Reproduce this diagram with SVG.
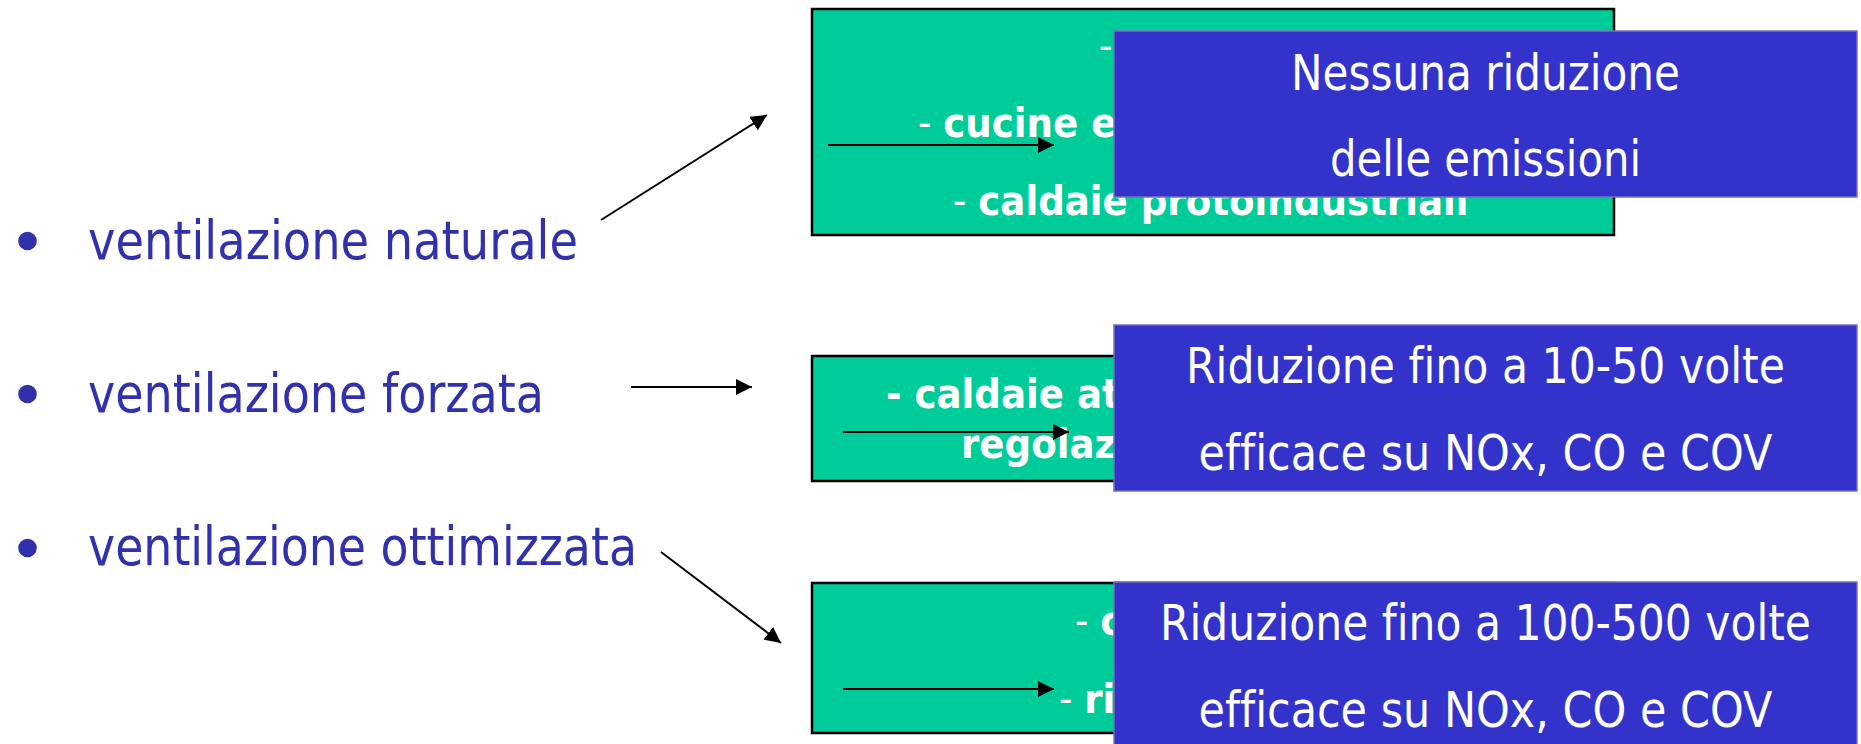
<svg xmlns="http://www.w3.org/2000/svg" width="1861" height="744" viewBox="0 0 1861 744">
  <style>
    .bullet-dot { fill: #3131ad; }
    .bullet-text { font-family: "DejaVu Sans", Verdana, sans-serif; font-size: 54px; fill: #3131ad; }
    .green-box { fill: #00cc99; stroke: #000000; stroke-width: 2.5; }
    .green-text { font-family: "DejaVu Sans", Verdana, sans-serif; font-weight: bold; font-size: 40px; fill: #ffffff; }
    .thin { font-weight: normal; }
    .blue-box { fill: #3333cc; stroke: #7373bf; stroke-width: 1.5; }
    .blue-text { font-family: "DejaVu Sans", Verdana, sans-serif; font-size: 49.5px; fill: #ffffff; text-anchor: middle; font-variant-ligatures: none; }
    .link { stroke: #000000; stroke-width: 2; fill: none; marker-end: url(#head); }
  </style>
  <defs>
    <marker id="head" markerUnits="userSpaceOnUse" markerWidth="16" markerHeight="16" refX="16" refY="8" orient="auto">
      <path d="M0,0 L16,8 L0,16 Z" fill="#000000"/>
    </marker>
  </defs>

  <rect width="1861" height="744" fill="#ffffff"/>

  <!-- bullet list -->
  <g id="item-naturale">
    <circle class="bullet-dot" cx="27.5" cy="241" r="9.3"/>
    <text class="bullet-text" x="88" y="259" textLength="490" lengthAdjust="spacingAndGlyphs">ventilazione naturale</text>
  </g>
  <g id="item-forzata">
    <circle class="bullet-dot" cx="27.5" cy="394" r="9.3"/>
    <text class="bullet-text" x="88" y="411.5" textLength="456" lengthAdjust="spacingAndGlyphs">ventilazione forzata</text>
  </g>
  <g id="item-ottimizzata">
    <circle class="bullet-dot" cx="27.5" cy="548" r="9.3"/>
    <text class="bullet-text" x="88" y="565" textLength="549" lengthAdjust="spacingAndGlyphs">ventilazione ottimizzata</text>
  </g>

  <!-- green boxes: appliance lists -->
  <g id="box-naturale">
    <rect class="green-box" x="812" y="9" width="802" height="226"/>
    <text class="green-text" transform="translate(1099,60) scale(0.93,1)"><tspan class="thin">-</tspan></text>
    <text class="green-text" transform="translate(918,137) scale(0.93,1)"><tspan class="thin">- </tspan>cucine e</text>
    <text class="green-text" transform="translate(953,215) scale(0.93,1)"><tspan class="thin">- </tspan>caldaie protoindustriali</text>
  </g>
  <g id="box-forzata">
    <rect class="green-box" x="812" y="356" width="802" height="125"/>
    <text class="green-text" transform="translate(886,408) scale(0.93,1)">- caldaie at</text>
    <text class="green-text" transform="translate(961,458) scale(0.93,1)">regolaz</text>
  </g>
  <g id="box-ottimizzata">
    <rect class="green-box" x="812" y="583" width="802" height="150"/>
    <text class="green-text" transform="translate(1075,635) scale(0.93,1)"><tspan class="thin">- </tspan>c</text>
    <text class="green-text" transform="translate(1059,713) scale(0.93,1)"><tspan class="thin">- </tspan>ri</text>
  </g>

  <!-- connectors -->
  <g id="connectors">
    <line class="link" x1="601" y1="220" x2="767" y2="115"/>
    <line class="link" x1="631" y1="387" x2="752" y2="387"/>
    <line class="link" x1="661" y1="552" x2="781" y2="643"/>
    <line class="link" x1="828" y1="145" x2="1054" y2="145"/>
    <line class="link" x1="843" y1="432" x2="1069" y2="432"/>
    <line class="link" x1="843" y1="689" x2="1054" y2="689"/>
  </g>

  <!-- blue boxes: emission outcome -->
  <g id="result-naturale">
    <rect class="blue-box" x="1114" y="31" width="743" height="166"/>
    <text class="blue-text" x="1485.5" y="90" textLength="389" lengthAdjust="spacingAndGlyphs">Nessuna riduzione</text>
    <text class="blue-text" x="1485.5" y="176" textLength="311" lengthAdjust="spacingAndGlyphs">delle emissioni</text>
  </g>
  <g id="result-forzata">
    <rect class="blue-box" x="1114" y="325" width="743" height="166"/>
    <text class="blue-text" x="1485.5" y="383" textLength="599" lengthAdjust="spacingAndGlyphs">Riduzione fino a 10-50 volte</text>
    <text class="blue-text" x="1485.5" y="470" textLength="574" lengthAdjust="spacingAndGlyphs">efficace su NOx, CO e COV</text>
  </g>
  <g id="result-ottimizzata">
    <rect class="blue-box" x="1114" y="582" width="743" height="170"/>
    <text class="blue-text" x="1485.5" y="640" textLength="651" lengthAdjust="spacingAndGlyphs">Riduzione fino a 100-500 volte</text>
    <text class="blue-text" x="1485.5" y="727" textLength="574" lengthAdjust="spacingAndGlyphs">efficace su NOx, CO e COV</text>
  </g>
</svg>
